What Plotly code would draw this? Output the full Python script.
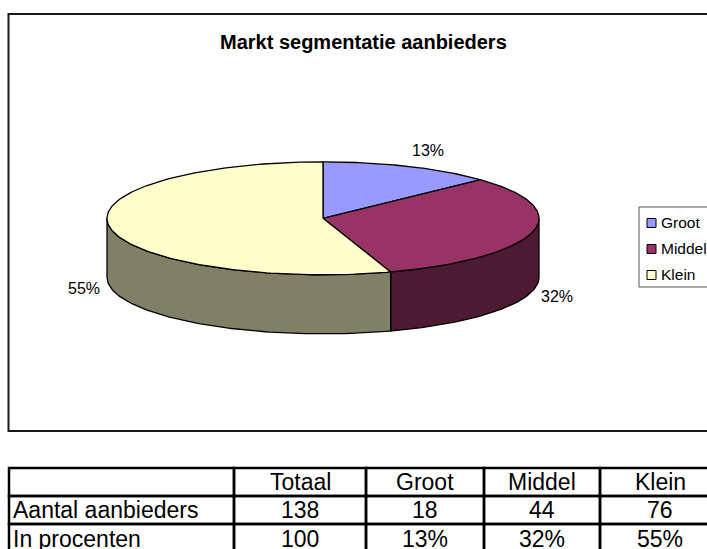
import math
import plotly.graph_objects as go

TITLE = "Markt segmentatie aanbieders"
categories = ["Groot", "Middel", "Klein"]
values = [18, 44, 76]
pct_labels = ["13%", "32%", "55%"]
top_colors = ["#9999FF", "#993366", "#FFFFCC"]
side_colors = ["#4D4D80", "#4D1A33", "#808066"]
table_header = ["", "Totaal", "Groot", "Middel", "Klein"]
table_row1 = ["Aantal aanbieders", "138", "18", "44", "76"]
table_row2 = ["In procenten", "100", "13%", "32%", "55%"]

FONT = "Liberation Sans, Arial, sans-serif"
CX, CY, RX, RY, DEPTH = 323, 218.3, 216, 56.5, 59
label_pos = [(428, 150), (557, 296), (84, 288)]
col_edges = [9, 234, 366, 484, 600, 720]
row_edges = [468, 496, 524, 554]


def pt(turn, dy=0):
    a = 2 * math.pi * turn
    return CX + RX * math.sin(a), CY - RY * math.cos(a) + dy


fig = go.Figure()
total = sum(values)
start = 0.0
spans = []
for v in values:
    spans.append((start, start + v / total))
    start += v / total

LW = 1.3
# side walls (only the front half, turn 0.25..0.75)
for (a, b), col in zip(spans, side_colors):
    lo, hi = max(a, 0.25), min(b, 0.75)
    if lo >= hi:
        continue
    n = 80
    ts = [lo + (hi - lo) * i / n for i in range(n + 1)]
    top = [pt(t) for t in ts]
    bot = [pt(t, DEPTH) for t in reversed(ts)]
    pts = top + bot + [top[0]]
    fig.add_trace(go.Scatter(x=[p[0] for p in pts], y=[p[1] for p in pts], mode="lines",
                             fill="toself", fillcolor=col, line=dict(color="black", width=LW),
                             showlegend=False, hoverinfo="skip"))
# top faces
for (a, b), col, name in zip(spans, top_colors, categories):
    n = 160
    ts = [a + (b - a) * i / n for i in range(n + 1)]
    pts = [(CX, CY)] + [pt(t) for t in ts] + [(CX, CY)]
    fig.add_trace(go.Scatter(x=[p[0] for p in pts], y=[p[1] for p in pts], mode="lines",
                             fill="toself", fillcolor=col, line=dict(color="black", width=LW),
                             name=name, showlegend=False, hoverinfo="skip"))

shapes = [
    dict(type="rect", xref="x", yref="y", x0=8.5, y0=14, x1=720, y1=431,
         line=dict(color="#1a1a1a", width=2), fillcolor="white", layer="below"),
    dict(type="rect", xref="x", yref="y", x0=639, y0=207, x1=720, y1=287,
         line=dict(color="#555555", width=1), fillcolor="white", layer="below"),
]
for ry0, ry1 in zip(row_edges[:-1], row_edges[1:]):
    for cx0, cx1 in zip(col_edges[:-1], col_edges[1:]):
        shapes.append(dict(type="rect", xref="x", yref="y", x0=cx0, y0=ry0, x1=cx1, y1=ry1,
                           line=dict(color="black", width=2.5), layer="below"))

ann = [dict(x=363, y=42, text=f"<b>{TITLE}</b>", showarrow=False,
            font=dict(family=FONT, size=20, color="black"))]
for (x, y), t in zip(label_pos, pct_labels):
    ann.append(dict(x=x, y=y, text=t, showarrow=False, font=dict(family=FONT, size=16, color="black")))

# legend
for i, (name, col) in enumerate(zip(categories, top_colors)):
    y = 223 + i * 26
    shapes.append(dict(type="rect", xref="x", yref="y", x0=647, y0=y - 4.5, x1=656, y1=y + 4.5,
                       line=dict(color="black", width=1), fillcolor=col))
    ann.append(dict(x=660, y=y - 1, text=name, xanchor="left", showarrow=False, xshift=-1,
                    font=dict(family=FONT, size=15.5, color="black")))

# table
for r, row in enumerate([table_header, table_row1, table_row2]):
    yc = (row_edges[r] + row_edges[r + 1]) / 2
    for c, txt in enumerate(row):
        if not txt:
            continue
        if c == 0:
            ann.append(dict(x=col_edges[0] + 2, y=yc, text=txt, xanchor="left", showarrow=False,
                            font=dict(family=FONT, size=23, color="black")))
        else:
            ann.append(dict(x=(col_edges[c] + col_edges[c + 1]) / 2, y=yc, text=txt, showarrow=False,
                            font=dict(family=FONT, size=23, color="black")))

fig.update_layout(
    width=707, height=549, margin=dict(l=0, r=0, t=0, b=0),
    paper_bgcolor="white", plot_bgcolor="white", showlegend=False,
    xaxis=dict(range=[0, 707], visible=False, fixedrange=True),
    yaxis=dict(range=[549, 0], visible=False, fixedrange=True),
    shapes=shapes, annotations=ann,
)
fig.write_html("out.html", config=dict(displayModeBar=False),
               post_script="document.body.style.margin='0';document.body.style.overflow='hidden';")
